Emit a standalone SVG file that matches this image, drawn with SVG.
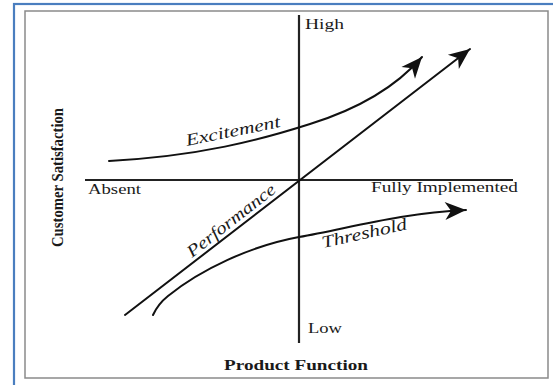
<svg xmlns="http://www.w3.org/2000/svg" width="553" height="385" viewBox="0 0 553 385">
<style>
.lbl{font-family:"Liberation Serif","Times New Roman",serif;font-size:15px;fill:#1a1a1a}
.b{font-weight:bold}
.it{font-style:italic;font-size:17px}
.curve{fill:none;stroke:#111;stroke-width:2;stroke-linecap:round}
.axis{fill:none;stroke:#222;stroke-width:2.2}
</style>
<defs>
<marker id="ah" markerUnits="userSpaceOnUse" viewBox="-22 -10 23 20" markerWidth="23" markerHeight="20" refX="0" refY="0" orient="auto">
<path d="M0,0 L-21,-9 L-15,0 L-21,9 Z" fill="#111"/>
</marker>
</defs>
<rect id="frame" x="14" y="4" width="560" height="400" fill="#fff" stroke="#4a7ebf" stroke-width="2.2"/>
<rect id="box" x="25" y="11" width="523" height="367" fill="#fff" stroke="#8a8a8a" stroke-width="1.5"/>
<g id="axes">
<line class="axis" x1="299" y1="15" x2="299" y2="343"/>
<line class="axis" x1="85" y1="180" x2="513" y2="180"/>
</g>
<g id="connectors">
<path id="performance-line" class="curve" d="M125,315 L470,49" marker-end="url(#ah)"/>
<path id="excitement-line" class="curve" d="M109,161 C200,156 260,140 310,124 C355,110 395,88 422,57" marker-end="url(#ah)"/>
<path id="threshold-line" class="curve" d="M153,315 Q158,304 168,296 C200,270 250,246 299,237 C350,228 400,213 466,210" marker-end="url(#ah)"/>
</g>
<g id="axis-labels">
<text class="lbl" x="305" y="29" textLength="39" lengthAdjust="spacingAndGlyphs">High</text>
<text class="lbl" x="308" y="333" textLength="34" lengthAdjust="spacingAndGlyphs">Low</text>
<text class="lbl" x="88" y="194" textLength="53" lengthAdjust="spacingAndGlyphs">Absent</text>
<text class="lbl" x="371" y="192" textLength="147" lengthAdjust="spacingAndGlyphs">Fully Implemented</text>
<text class="lbl b" x="224" y="370" textLength="144" lengthAdjust="spacingAndGlyphs">Product Function</text>
<text class="lbl b" style="font-size:17px" transform="translate(63,247) rotate(-90)" textLength="139" lengthAdjust="spacingAndGlyphs">Customer Satisfaction</text>
</g>
<g id="curve-labels">
<text class="lbl it" transform="translate(187,146) rotate(-11.5)" textLength="96" lengthAdjust="spacingAndGlyphs">Excitement</text>
<text class="lbl it" transform="translate(192,258) rotate(-38)" textLength="108" lengthAdjust="spacingAndGlyphs">Performance</text>
<text class="lbl it" transform="translate(323,248) rotate(-12.5)" textLength="87" lengthAdjust="spacingAndGlyphs">Threshold</text>
</g>
</svg>
